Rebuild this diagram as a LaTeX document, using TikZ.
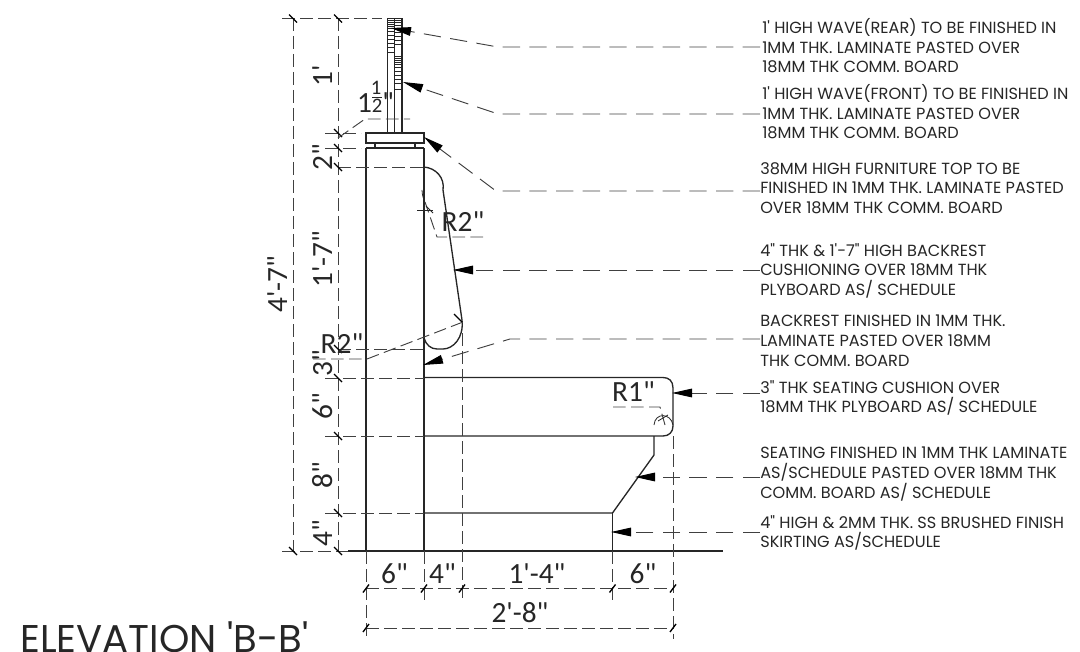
\documentclass[tikz,border=0pt]{standalone}
\usepackage{fontspec}
\setmainfont{Poppins}[Ligatures=TeXOff]
\newfontfamily\dimfont{Carlito}
\usetikzlibrary{arrows.meta}
\tikzset{
  x=0.75pt,y=-0.75pt,
  solidline/.style={line width=1.0pt,draw=black!85},
  thinline/.style={line width=0.6pt,draw=black!85},
  dimline/.style={line width=0.7pt,draw=black!75,dash pattern=on 9.5pt off 4pt},
  leader/.style={line width=0.7pt,draw=black!75,dash pattern=on 13pt off 7pt,-{Triangle[length=15pt,width=6.5pt,black]}},
  tickmark/.style={line width=1pt,draw=black},
  note/.style={anchor=north west,align=left,inner sep=0pt,font=\fontsize{12.1pt}{14.8pt}\selectfont,text=black!85},
  dimtext/.style={inner sep=0pt,anchor=base,font=\dimfont\fontsize{22pt}{22pt}\selectfont,text=black!85},
  fractext/.style={inner sep=0pt,anchor=base,font=\dimfont\fontsize{15.5pt}{15.5pt}\selectfont,text=black!85}
}
\begin{document}
\begin{tikzpicture}
\useasboundingbox (0,0) rectangle (1080,652);
% wave panels
\draw[solidline] (387.5,18.5) -- (387.5,133) (394.5,18.5) -- (394.5,133) (402,18.5) -- (402,133);
\draw[thinline] (387.5,18.5) -- (402,18.5);
\foreach \y in {20,22,24,26,28,31,35,39,43,47,52}{\draw[thinline] (387.5,\y) -- (394.5,\y);}
\foreach \y in {20,22,25,28,32,36,40,44}{\draw[thinline] (394.5,\y) -- (402,\y);}
\foreach \y in {56,58,60,62,64,67,71,75,79,83,89}{\draw[thinline] (394.5,\y) -- (402,\y);}
% top
\draw[solidline] (366,133) rectangle (424,143);
\draw[solidline] (375,143) rectangle (415,148);
\draw[solidline] (366,148) -- (424,148);
% body
\draw[solidline] (366,148) -- (366,551);
\draw[solidline] (424,148) -- (424,551);
% backrest
\draw[solidline] (424,167) .. controls (436,168) and (445,178) .. (443,190) -- (462,320) .. controls (464,338) and (453,349) .. (443,349) -- (437,349) .. controls (431,349) and (426,345) .. (424,338);
% seat
\draw[solidline] (424,377.5) -- (663,377.5) .. controls (669,377.5) and (673,381) .. (673,388) -- (673,426) .. controls (673,432) and (669,436) .. (663,436) -- (424,436);
\draw[solidline] (654,436) -- (654,455) -- (612.5,513) -- (424,513);
\draw[solidline] (612.5,513) -- (612.5,551);
\draw[solidline] (348,551) -- (723,551);
% radius arcs
\draw[thinline] (654,425) .. controls (655,412) and (671,413) .. (673,425);
\draw[thinline] (424,200) .. controls (424,200) and (422,195) .. (422,190);
% vertical dim lines
\draw[dimline] (293,18) -- (293,551);
\draw[dimline] (338,18) -- (338,551);
\draw[dimline] (282,18.5) -- (382,18.5);
\draw[dimline] (325,133) -- (361,133);
\draw[dimline] (325,148) -- (361,148);
\draw[dimline] (338,167) -- (424,167);
\draw[dimline] (338,349) -- (424,349);
\draw[dimline] (325,378) -- (424,378);
\draw[dimline] (325,436) -- (424,436);
\draw[dimline] (325,513) -- (424,513);
\draw[dimline] (282,551) -- (348,551);
% horizontal dims
\draw[dimline] (366,551) -- (366,639);
\draw[dimline] (424,551) -- (424,602);
\draw[dimline] (462,333) -- (462,602);
\draw[dimline] (612.5,551) -- (612.5,602);
\draw[dimline] (673,436) -- (673,639);
\draw[dimline] (366,588.5) -- (673,588.5);
\draw[dimline] (366,628) -- (673,628);
% ticks
\foreach \x/\y in {293/18.5,338/18.5,293/551,338/551,338/133,338/148,338/167,338/349,338/378,338/436,338/513,458/318}{
  \draw[tickmark] (\x-4,\y-4) -- (\x+4,\y+4);}
\foreach \x/\y in {366/588.5,424/588.5,462/588.5,612.5/588.5,673/588.5,366/628,673/628}{
  \draw[tickmark] (\x-3,\y+4) -- (\x+3,\y-4);}
% R leaders
\draw[dimline] (483,237) -- (437,237) -- (425,202);
\draw[thinline] (417,210) -- (433,210);
\draw[thinline] (426,206) -- (433,213);
\draw[dimline] (313,359) -- (367,359) -- (463,322);
\draw[dimline] (613,407) -- (660,407) -- (665,425);
\draw[thinline] (658,421) -- (668,415);
\draw[dimline] (338,138) -- (365,119) -- (410,119);
% dim text
\node[dimtext,rotate=90] (d1) at (332,76) {1'};
\node[dimtext] (d2) at (364.5,113) {1};
\node[fractext] (d2a) at (376,95) {1};
\node[fractext] (d2b) at (377,113) {2};
\draw[thinline] (372,97) -- (382,97);
\node[dimtext] (d2c) at (388,113) {"};
\node[dimtext,rotate=90] (d3) at (332,157) {2"};
\node[dimtext,rotate=90] (d4) at (332,259) {1'-7"};
\node[dimtext,rotate=90] (d5) at (287,284) {4'-7"};
\node[dimtext] (d6) at (342,353) {R2"};
\node[dimtext,rotate=90] (d7) at (332,363) {3"};
\node[dimtext,rotate=90] (d8) at (332,406) {6"};
\node[dimtext,rotate=90] (d9) at (332,475) {8"};
\node[dimtext,rotate=90] (d10) at (332,533) {4"};
\node[dimtext] (d11) at (463,231) {R2"};
\node[dimtext] (d12) at (633.5,401) {R1"};
\node[dimtext] (d13) at (394.5,583) {6"};
\node[dimtext] (d14) at (442.5,583) {4"};
\node[dimtext] (d15) at (537,583) {1'-4"};
\node[dimtext] (d16) at (643,583) {6"};
\node[dimtext] (d17) at (520,622) {2'-8"};
\node[anchor=base west,inner sep=0pt,font=\fontsize{29pt}{29pt}\selectfont,text=black!85] (title) at (20,652) {ELEVATION 'B-B'};
% notes
\node[note] (n1) at (762,18) {1' HIGH WAVE(REAR) TO BE FINISHED IN\\1MM THK. LAMINATE PASTED OVER\\18MM THK COMM. BOARD};
\node[note] (n2) at (762,84) {1' HIGH WAVE(FRONT) TO BE FINISHED IN\\1MM THK. LAMINATE PASTED OVER\\18MM THK COMM. BOARD};
\node[note] (n3) at (760,162) {38MM HIGH FURNITURE TOP TO BE\\FINISHED IN 1MM THK. LAMINATE PASTED\\OVER 18MM THK COMM. BOARD};
\node[note] (n4) at (760,243) {4" THK \& 1'-7" HIGH BACKREST\\CUSHIONING OVER 18MM THK\\PLYBOARD AS/ SCHEDULE};
\node[note] (n5) at (760,315) {BACKREST FINISHED IN 1MM THK.\\LAMINATE PASTED OVER 18MM\\THK COMM. BOARD};
\node[note] (n6) at (760,380) {3" THK SEATING CUSHION OVER\\18MM THK PLYBOARD AS/ SCHEDULE};
\node[note] (n7) at (760,447) {SEATING FINISHED IN 1MM THK LAMINATE\\AS/SCHEDULE PASTED OVER 18MM THK\\COMM. BOARD AS/ SCHEDULE};
\node[note] (n8) at (760,515) {4" HIGH \& 2MM THK. SS BRUSHED FINISH\\SKIRTING AS/SCHEDULE};
% leaders
\coordinate (e1) at (760,47);
\coordinate (e2) at (760,114);
\coordinate (e3) at (760,191);
\coordinate (e4) at (760,270);
\coordinate (e5) at (760,339);
\coordinate (e6) at (760,393);
\coordinate (e7) at (760,477);
\coordinate (e8) at (760,532);
\draw[leader] (e1) -- (498,47) -- (391,28);
\draw[leader] (e2) -- (498,114) -- (403,82);
\draw[leader] (e3) -- (496,191) -- (424,137);
\draw[leader] (e4) -- (453,270);
\draw[leader] (e5) -- (510,339) -- (423,365);
\draw[leader] (e6) -- (672,393);
\draw[leader] (e7) -- (635,477);
\draw[leader] (e8) -- (611,532);
\end{tikzpicture}
\end{document}
